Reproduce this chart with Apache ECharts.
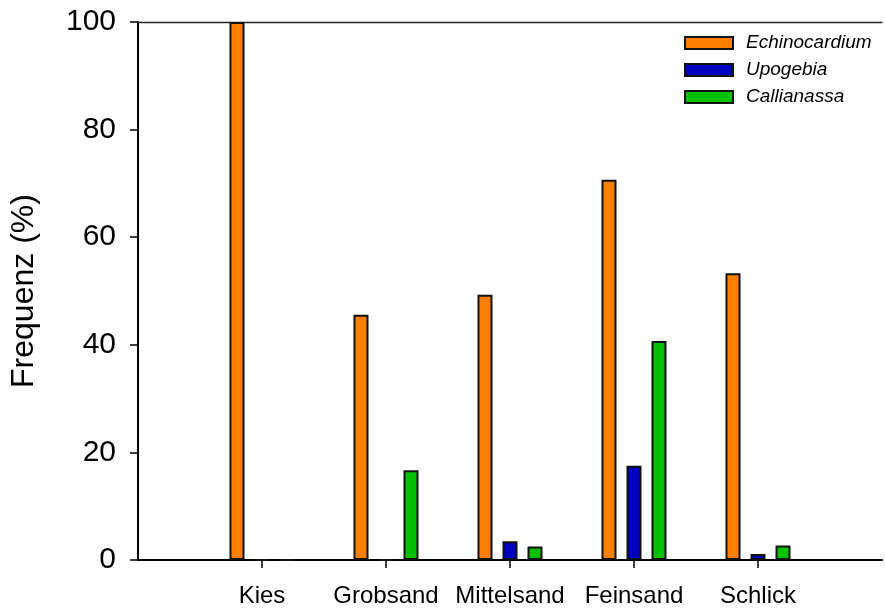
<!DOCTYPE html>
<html>
<head>
<meta charset="utf-8">
<script src="https://cdn.jsdelivr.net/npm/echarts@6/dist/echarts.min.js"></script>
<style>
  html, body { margin: 0; padding: 0; background: #fff; }
  #chart { width: 885px; height: 608px; }
</style>
</head>
<body>
<div id="chart"></div>
<script>
// Sediment types (German) and the frequency (%) of each burrowing species
const categories = ['Kies', 'Grobsand', 'Mittelsand', 'Feinsand', 'Schlick'];
const echinocardium = [100, 45.6, 49.3, 70.7, 53.3];
const upogebia      = [0, 0, 3.5, 17.5, 1.1];
const callianassa   = [0, 16.7, 2.5, 40.7, 2.7];
const yTicks = [0, 20, 40, 60, 80, 100];

const FONT = '"Liberation Sans", Arial, Helvetica, sans-serif';

// Empty slots at both ends so the five sediment classes sit at positions 1..5 on a 0..6 axis
const axisCats = [''].concat(categories, ['']);
const pad = arr => ['-'].concat(arr, ['-']);

const barStyle = color => ({ color: color, borderColor: '#111', borderWidth: 2 });

const chart = echarts.init(document.getElementById('chart'), null, { renderer: 'canvas' });

chart.setOption({
  animation: false,
  backgroundColor: '#fff',
  grid: { left: 136, right: 0, top: 22, bottom: 46 },
  legend: {
    orient: 'vertical',
    left: 684,
    top: 33,
    padding: 0,
    icon: 'rect',
    itemWidth: 48,
    itemHeight: 12,
    itemGap: 7,
    textStyle: { fontFamily: FONT, fontSize: 19, fontStyle: 'italic', color: '#000', lineHeight: 20, padding: [0, 0, 0, 8] },
    data: ['Echinocardium', 'Upogebia', 'Callianassa']
  },
  xAxis: [{
    type: 'category',
    data: axisCats,
    boundaryGap: false,
    axisLine: { lineStyle: { color: '#000', width: 2 } },
    axisTick: {
      show: true, inside: false, length: 8,
      interval: idx => idx > 0 && idx < axisCats.length - 1,
      lineStyle: { color: '#000', width: 1.5 }
    },
    axisLabel: {
      interval: 0, margin: 24,
      fontFamily: FONT, fontSize: 24, color: '#000'
    },
    splitLine: { show: false }
  }, {
    type: 'category',
    position: 'top',
    data: axisCats,
    boundaryGap: false,
    axisLine: { lineStyle: { color: '#222', width: 1.3 } },
    axisTick: { show: false },
    axisLabel: { show: false },
    splitLine: { show: false }
  }],
  yAxis: {
    type: 'value',
    min: yTicks[0],
    max: yTicks[yTicks.length - 1],
    interval: yTicks[1] - yTicks[0],
    name: 'Frequenz (%)',
    nameLocation: 'middle',
    nameRotate: 90,
    nameGap: 98,
    nameTextStyle: { fontFamily: FONT, fontSize: 32, color: '#000' },
    axisLine: { show: true, lineStyle: { color: '#000', width: 2 } },
    axisTick: { show: true, inside: false, length: 8, lineStyle: { color: '#000', width: 1.5 } },
    axisLabel: { margin: 22, fontFamily: FONT, fontSize: 30, color: '#000' },
    splitLine: { show: false }
  },
  series: [
    { name: 'Echinocardium', type: 'bar', xAxisIndex: 0, data: pad(echinocardium),
      barWidth: 15, barGap: '66.7%', itemStyle: barStyle('#FF8000') },
    { name: 'Upogebia', type: 'bar', xAxisIndex: 0, data: pad(upogebia),
      barWidth: 15, barGap: '66.7%', itemStyle: barStyle('#0000C0') },
    { name: 'Callianassa', type: 'bar', xAxisIndex: 0, data: pad(callianassa),
      barWidth: 15, barGap: '66.7%', itemStyle: barStyle('#00C000') }
  ]
});
</script>
</body>
</html>
